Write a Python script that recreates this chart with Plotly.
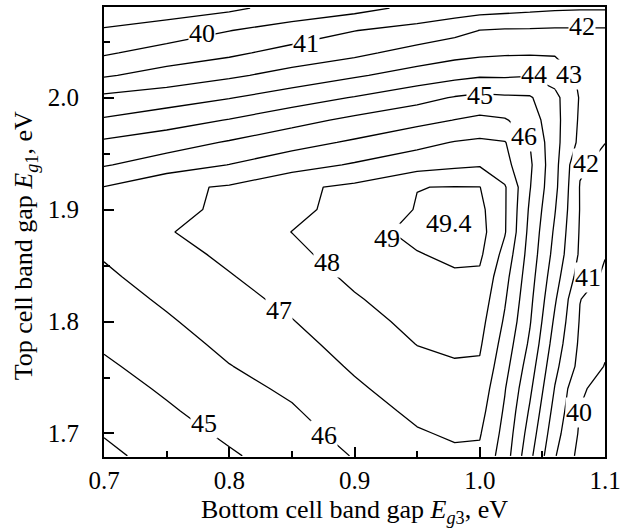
import numpy as np
import plotly.graph_objects as go

# Grid of the efficiency map (x: bottom cell gap, y: top cell gap)
x_vals = [0.70, 0.75, 0.80, 0.85, 0.90, 0.95, 0.98, 1.00, 1.02, 1.04, 1.06, 1.08, 1.10]
y_vals = [1.68, 1.70, 1.72, 1.74, 1.76, 1.78, 1.80, 1.82, 1.84, 1.86, 1.88,
          1.90, 1.92, 1.94, 1.96, 1.98, 2.00, 2.02, 2.04, 2.06, 2.08]

# efficiency values along each x column (bottom to top)
z_x070 = [43.78, 44.05, 44.32, 44.59, 44.86, 45.12, 45.36, 45.60, 45.84, 46.08, 46.35, 46.40, 46.03, 44.92, 44.15, 43.11, 42.22, 40.89, 39.88, 39.10, 38.30]
z_x075 = [44.37, 44.62, 44.88, 45.13, 45.38, 45.63, 45.89, 46.14, 46.40, 46.66, 46.93, 46.85, 46.79, 45.50, 44.55, 43.56, 42.52, 41.40, 40.39, 39.45, 38.50]
z_x080 = [44.89, 45.16, 45.43, 45.70, 45.97, 46.22, 46.46, 46.70, 46.94, 47.19, 47.46, 47.11, 47.10, 46.02, 45.09, 44.05, 42.95, 41.83, 40.80, 39.98, 38.80]
z_x085 = [45.42, 45.66, 45.90, 46.16, 46.43, 46.69, 46.96, 47.22, 47.49, 47.75, 48.01, 47.80, 47.80, 46.60, 45.64, 44.65, 43.50, 42.35, 41.36, 40.40, 39.40]
z_x090 = [46.05, 46.32, 46.59, 46.85, 47.12, 47.38, 47.64, 47.91, 48.19, 48.48, 48.70, 48.30, 48.20, 47.10, 46.14, 45.23, 44.06, 42.88, 41.77, 40.98, 39.67]
z_x095 = [46.64, 46.92, 47.19, 47.47, 47.75, 48.02, 48.26, 48.49, 48.73, 48.96, 49.20, 49.05, 48.985, 47.60, 46.70, 45.71, 44.67, 43.41, 42.38, 41.33, 40.26]
z_x098 = [46.84, 47.11, 47.37, 47.64, 47.91, 48.16, 48.41, 48.65, 48.90, 49.15, 49.45, 49.40, 49.03, 47.81, 47.05, 46.02, 45.07, 43.71, 42.67, 41.69, 40.45]
z_x100 = [46.81, 47.08, 47.35, 47.61, 47.88, 48.13, 48.34, 48.58, 48.83, 49.18, 49.35, 49.25, 49.02, 47.91, 47.18, 46.21, 45.24, 43.88, 42.80, 42.02, 40.55]
z_x102 = [45.51, 45.69, 45.87, 46.06, 46.34, 46.60, 46.87, 47.10, 47.33, 47.67, 48.08, 48.10, 48.10, 47.30, 47.05, 46.08, 45.15, 43.87, 42.88, 42.10, 40.65]
z_x104 = [43.26, 43.57, 43.88, 44.19, 44.50, 44.83, 45.08, 45.25, 45.42, 45.58, 45.71, 45.86, 46.05, 46.17, 45.99, 45.53, 45.10, 43.94, 42.90, 42.12, 40.75]
z_x106 = [41.07, 41.37, 41.66, 41.95, 42.25, 42.55, 42.83, 43.12, 43.40, 43.67, 43.85, 44.05, 44.24, 44.31, 44.32, 44.33, 44.27, 43.57, 42.90, 42.15, 40.85]
z_x108 = [39.70, 39.87, 39.98, 40.10, 40.69, 40.83, 40.93, 41.02, 41.56, 41.86, 41.92, 41.97, 41.96, 42.10, 42.76, 42.86, 42.93, 42.86, 42.60, 42.15, 40.90]
z_x110 = [39.10, 39.33, 39.54, 39.75, 39.96, 40.18, 40.39, 40.61, 40.83, 41.05, 41.24, 41.43, 41.62, 41.81, 42.01, 42.30, 42.50, 42.55, 42.45, 42.15, 40.90]

# contour labels
label_text = ["40", "41", "42", "43", "44", "45", "46", "42", "41", "40",
              "49.4", "49", "48", "47", "45", "46"]
label_x = [0.778, 0.861, 1.082, 1.0715, 1.0435, 1.0003, 1.035, 1.0848, 1.0861, 1.0795,
           0.9755, 0.926, 0.878, 0.8395, 0.780, 0.876]
label_y = [2.057, 2.0485, 2.064, 2.0205, 2.0205, 2.0018, 1.965, 1.9408, 1.8396, 1.719,
           1.8872, 1.874, 1.853, 1.810, 1.7086, 1.698]

x_ticks = [0.7, 0.8, 0.9, 1.0, 1.1]
x_tick_text = ["0.7", "0.8", "0.9", "1.0", "1.1"]
y_ticks = [1.7, 1.8, 1.9, 2.0]
y_tick_text = ["1.7", "1.8", "1.9", "2.0"]

x_title = "Bottom cell band gap <i>E</i><sub><i>g</i>3</sub>, eV"
y_title = "Top cell band gap <i>E</i><sub><i>g</i>1</sub>, eV"

Z = np.array([z_x070, z_x075, z_x080, z_x085, z_x090, z_x095, z_x098, z_x100,
              z_x102, z_x104, z_x106, z_x108, z_x110]).T

FONT = "Liberation Serif, Times New Roman, serif"

fig = go.Figure()
fig.add_trace(go.Contour(
    x=x_vals, y=y_vals, z=Z,
    contours=dict(start=39, end=49, size=1, coloring="lines", showlabels=False),
    line=dict(width=1.3, smoothing=0),
    colorscale=[[0, "black"], [1, "black"]],
    showscale=False, hoverinfo="skip",
))

for t, lx, ly in zip(label_text, label_x, label_y):
    fig.add_annotation(x=lx, y=ly, text=t, showarrow=False,
                       font=dict(family=FONT, size=26, color="black"),
                       bgcolor="white", borderpad=0)

# y-axis title as rotated text
fig.add_annotation(xref="paper", yref="paper", x=-0.158, y=0.47, text=y_title,
                   textangle=-90, showarrow=False, xanchor="center", yanchor="middle",
                   font=dict(family=FONT, size=26, color="black"))

axis_common = dict(
    showline=True, linecolor="black", linewidth=2, mirror=True,
    ticks="inside", ticklen=10, tickwidth=1.5, tickcolor="black",
    showgrid=False, zeroline=False, automargin=False,
    tickfont=dict(family=FONT, size=25, color="black"),
    title_font=dict(family=FONT, size=26, color="black"),
)

fig.update_xaxes(range=[0.7, 1.1], tickvals=x_ticks, ticktext=x_tick_text,
                 minor=dict(dtick=0.05, ticks="inside", ticklen=6, tickwidth=1.5, tickcolor="black"),
                 title_text=x_title, title_standoff=7, **axis_common)
fig.update_yaxes(range=[1.679, 2.081], tickvals=y_ticks, ticktext=y_tick_text,
                 ticklabelstandoff=18,
                 minor=dict(dtick=0.05, ticks="inside", ticklen=6, tickwidth=1.5, tickcolor="black"),
                 **axis_common)

fig.update_layout(
    width=625, height=529,
    margin=dict(l=104, r=20, t=7, b=72),
    plot_bgcolor="white", paper_bgcolor="white",
    showlegend=False,
)

fig.write_html("out.html", config={"displayModeBar": False},
               post_script="document.body.style.margin='0';")
